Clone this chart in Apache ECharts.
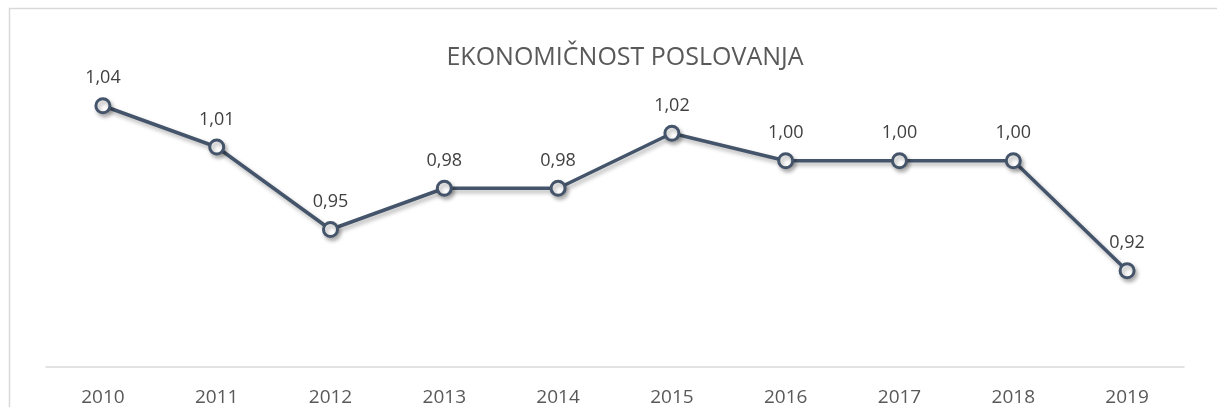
<!DOCTYPE html>
<html>
<head>
<meta charset="utf-8">
<script src="https://cdn.jsdelivr.net/npm/echarts@6/dist/echarts.min.js"></script>
<style>
  html, body { margin: 0; padding: 0; background: #fff; }
  #chart { width: 1217px; height: 407px; }
</style>
</head>
<body>
<div id="chart"></div>
<script>
// godine i vrijednosti ekonomičnosti
var years = ['2010', '2011', '2012', '2013', '2014', '2015', '2016', '2017', '2018', '2019'];
var values = [1.04, 1.01, 0.95, 0.98, 0.98, 1.02, 1.00, 1.00, 1.00, 0.92];

var lineColor = '#44546A';

var chart = echarts.init(document.getElementById('chart'));

chart.setOption({
    animation: false,
    title: {
        text: 'EKONOMIČNOST POSLOVANJA',
        left: 620,
        textAlign: 'center',
        top: 40,
        textStyle: {
            fontFamily: 'Open Sans',
            fontWeight: 'normal',
            fontSize: 25,
            color: '#595959'
        }
    },
    // okvir grafikona
    graphic: [{
        type: 'rect',
        shape: {x: 9.5, y: 8.5, width: 1400, height: 600},
        style: {fill: 'none', stroke: '#d9d9d9', lineWidth: 1.5},
        silent: true
    }],
    grid: {
        left: 46,
        right: 1217 - 1184,
        top: 92,
        bottom: 407 - 367
    },
    xAxis: {
        type: 'category',
        data: years,
        boundaryGap: true,
        axisLine: {lineStyle: {color: '#d9d9d9', width: 1.5}},
        axisTick: {show: false},
        axisLabel: {
            fontFamily: 'Open Sans',
            fontSize: 19,
            color: '#595959',
            margin: 21
        }
    },
    yAxis: {
        type: 'value',
        min: 0.85,
        max: 1.05,
        show: false,
        splitLine: {show: false}
    },
    series: [{
        type: 'line',
        data: values,
        symbol: 'circle',
        symbolSize: 14,
        lineStyle: {
            color: lineColor,
            width: 3.5,
            shadowColor: 'rgba(0,0,0,0.3)',
            shadowBlur: 4,
            shadowOffsetX: 2,
            shadowOffsetY: 3
        },
        itemStyle: {
            color: '#fff',
            borderColor: lineColor,
            borderWidth: 3,
            shadowColor: 'rgba(0,0,0,0.3)',
            shadowBlur: 4,
            shadowOffsetX: 2,
            shadowOffsetY: 3
        },
        label: {
            show: true,
            position: 'top',
            distance: 10,
            fontFamily: 'Open Sans',
            fontSize: 18,
            color: '#404040',
            formatter: function (p) {
                return p.value.toFixed(2).replace('.', ',');
            }
        }
    }]
});
</script>
</body>
</html>
